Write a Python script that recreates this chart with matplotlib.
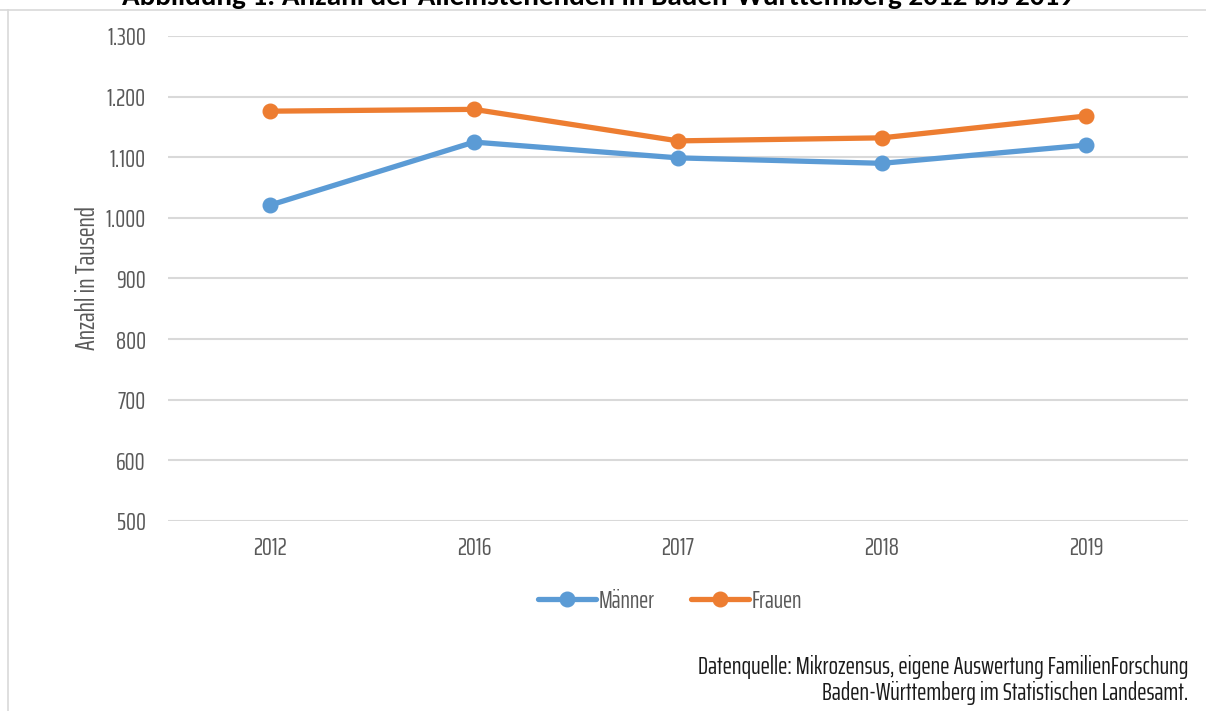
import matplotlib
matplotlib.use("Agg")
import matplotlib.pyplot as plt
from matplotlib.lines import Line2D

years = ["2012", "2016", "2017", "2018", "2019"]
maenner = [1021, 1125, 1099, 1090, 1120]
frauen = [1176, 1179, 1127, 1132, 1168]
yticks = [500, 600, 700, 800, 900, 1000, 1100, 1200, 1300]
ytick_labels = ["500", "600", "700", "800", "900", "1.000", "1.100", "1.200", "1.300"]

narrow = ['Saira ExtraCondensed', 'DejaVu Sans']
plt.rcParams['font.family'] = narrow

fig = plt.figure(figsize=(12.06, 7.11), dpi=100)
ax = fig.add_axes([168/1206, 1-521/711, (1188-168)/1206, (521-36)/711])

x = list(range(len(years)))
blue = '#5B9BD5'
orange = '#ED7D31'
ax.plot(x, maenner, color=blue, lw=3.8, marker='o', ms=10.5, solid_capstyle='round', zorder=3, label='Männer')
ax.plot(x, frauen, color=orange, lw=3.8, marker='o', ms=10.5, solid_capstyle='round', zorder=3, label='Frauen')

ax.set_xlim(-0.5, len(years) - 0.5)
ax.set_ylim(500, 1300)
ax.set_yticks(yticks)
ax.set_yticklabels(ytick_labels)
ax.set_xticks(x)
ax.set_xticklabels(years)
ax.grid(axis='y', color='#D9D9D9', lw=1.5)
ax.set_axisbelow(True)
for s in ax.spines.values():
    s.set_visible(False)
ax.tick_params(axis='both', length=0, labelsize=18, labelcolor='#595959')
ax.tick_params(axis='y', pad=16)
ax.tick_params(axis='x', pad=11)
ax.set_ylabel('Anzahl in Tausend', fontsize=19, color='#595959', labelpad=4)

handles = [Line2D([], [], color=blue, lw=3.8, marker='o', ms=10.5, solid_capstyle='round'),
           Line2D([], [], color=orange, lw=3.8, marker='o', ms=10.5, solid_capstyle='round')]
fig.legend(handles, ['Männer', 'Frauen'], loc='center', bbox_to_anchor=(670/1206, 1-601/711),
           ncol=2, frameon=False, fontsize=17.5, labelcolor='#595959', handlelength=2.4,
           handletextpad=0.1, columnspacing=1.5)

fig.text(1188/1206, 1-667/711, 'Datenquelle: Mikrozensus, eigene Auswertung FamilienForschung',
         ha='right', va='center', fontsize=17.8, color='#1a1a1a')
fig.text(1188/1206, 1-693/711, 'Baden-Württemberg im Statistischen Landesamt.',
         ha='right', va='center', fontsize=17.8, color='#1a1a1a')

fig.text(598/1206, 1-5/711, 'Abbildung 1: Anzahl der Alleinstehenden in Baden-Württemberg 2012 bis 2019',
         ha='center', va='baseline', fontsize=21, fontweight='bold', color='black',
         family=['Carlito', 'DejaVu Sans'])

fig.add_artist(Line2D([0, 1], [1-10/711, 1-10/711], transform=fig.transFigure, color='#D9D9D9', lw=1.2))
fig.add_artist(Line2D([7.5/1206, 7.5/1206], [0, 1-10/711], transform=fig.transFigure, color='#D9D9D9', lw=1.2))

fig.savefig('out.png', dpi=100)
